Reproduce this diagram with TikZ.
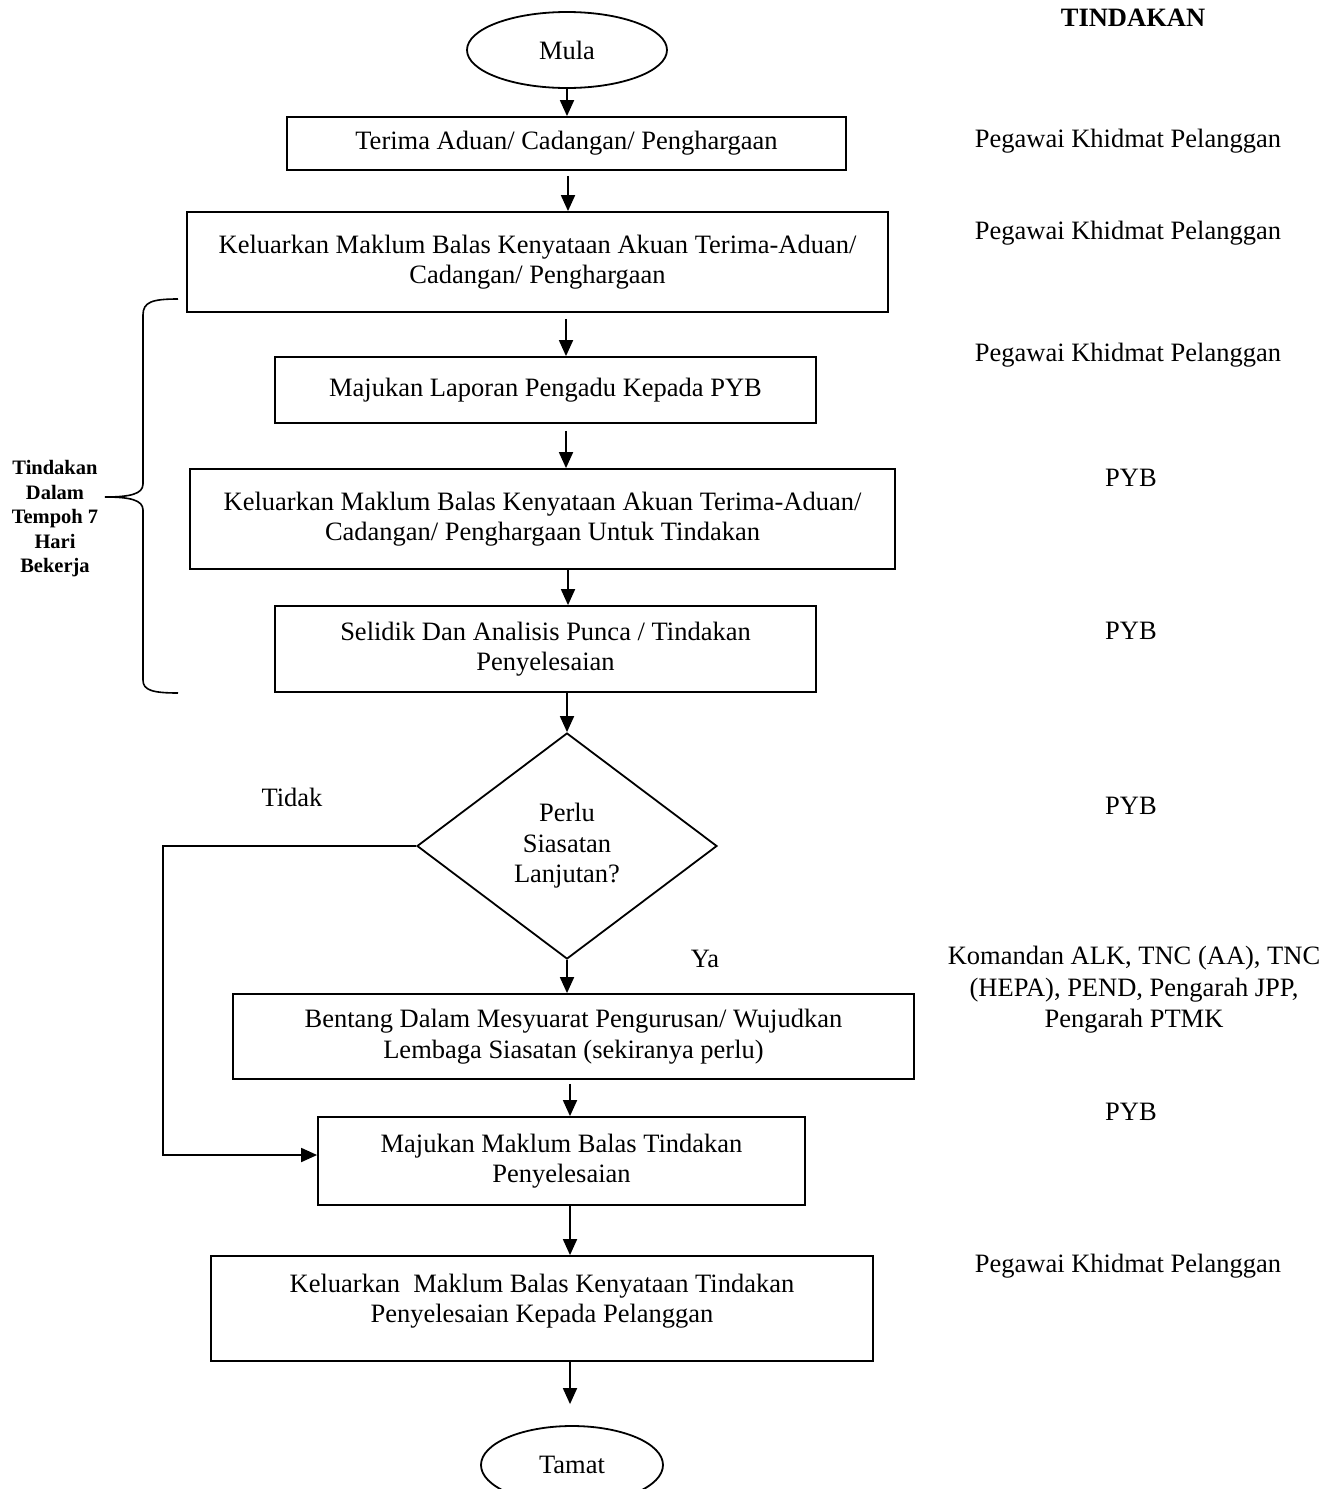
\documentclass[tikz,border=0pt]{standalone}
\usepackage{fontspec}
\setmainfont{Liberation Serif}
\usetikzlibrary{shapes.geometric,arrows.meta,calc}
\newcommand\mainsz{\fontsize{26.5}{30.5}\selectfont}
\newcommand\smallbold{\fontsize{20.5}{24.5}\selectfont\bfseries}
\begin{document}
\begin{tikzpicture}[x=1pt,y=-1pt,font=\mainsz,
  box/.style={draw, line width=1.8pt, rectangle, align=center, inner sep=0pt},
  term/.style={draw, ellipse, line width=1.8pt, inner sep=0pt},
  decide/.style={draw, diamond, line width=1.8pt, align=center, inner sep=0pt},
  arr/.style={line width=1.8pt, -{Triangle[length=16pt,width=14pt]}},
  who/.style={align=center, inner sep=0pt},
  tag/.style={inner sep=0pt}]
\useasboundingbox (0,0) rectangle (1333,1489);

% nodes
\node[term, minimum width=200pt, minimum height=76pt] (mula) at (567,50) {Mula};
\node[box, minimum width=559pt, minimum height=53pt] (b1) at (566.5,143.5) {Terima Aduan/ Cadangan/ Penghargaan};
\node[box, minimum width=701pt, minimum height=100pt] (b2) at (537.5,262) {Keluarkan Maklum Balas Kenyataan Akuan Terima-Aduan/\\Cadangan/ Penghargaan};
\node[box, minimum width=541pt, minimum height=66pt] (b3) at (545.5,390) {Majukan Laporan Pengadu Kepada PYB};
\node[box, minimum width=705pt, minimum height=100pt] (b4) at (542.5,519) {Keluarkan Maklum Balas Kenyataan Akuan Terima-Aduan/\\Cadangan/ Penghargaan Untuk Tindakan};
\node[box, minimum width=541pt, minimum height=86pt] (b5) at (545.5,649) {Selidik Dan Analisis Punca / Tindakan\\Penyelesaian};
\node[decide, minimum width=300pt, minimum height=226pt, aspect=1.33] (dec) at (567,846) {Perlu\\Siasatan\\Lanjutan?};
\node[box, minimum width=681pt, minimum height=85pt] (b6) at (573.5,1036.5) {Bentang Dalam Mesyuarat Pengurusan/ Wujudkan\\Lembaga Siasatan (sekiranya perlu)};
\node[box, minimum width=487pt, minimum height=88pt] (b7) at (561.5,1161) {Majukan Maklum Balas Tindakan\\Penyelesaian};
\node[box, minimum width=662pt, minimum height=105pt] (b8) at (542,1308.5) {Keluarkan~ Maklum Balas Kenyataan Tindakan\\Penyelesaian Kepada Pelanggan\\[-10.5pt]};
\node[term, minimum width=182pt, minimum height=78pt] (tamat) at (572,1465) {Tamat};

% arrows
\coordinate (axis) at (568,0);
\coordinate (loopx) at (163,0);
\draw[arr] (mula.south) -- (mula.south |- b1.north);
\draw[arr] ($(b1.south -| axis)+(0,5)$) -- (b2.north -| axis);
\draw[arr] ($(b2.south -| axis)+(-2,6)$) -- ($(b3.north -| axis)+(-2,0)$);
\draw[arr] ($(b3.south -| axis)+(-2,7)$) -- ($(b4.north -| axis)+(-2,0)$);
\draw[arr] (b4.south -| axis) -- (b5.north -| axis);
\draw[arr] (b5.south -| dec.north) -- (dec.north);
\draw[arr] (dec.south) -- (dec.south |- b6.north);
\draw[arr] ($(b6.south -| axis)+(2,4)$) -- ($(b7.north -| axis)+(2,0)$);
\draw[arr] ($(b7.south -| axis)+(2,0)$) -- ($(b8.north -| axis)+(2,0)$);
\draw[arr] ($(b8.south -| axis)+(2,0)$) -- ($(tamat.north)+(-2,-21)$);
\draw[arr] (dec.west) -- (dec.west -| loopx) |- ($(b7.west)+(0,-6)$);

% branch labels
\node[tag] (tidak) at (292,797) {Tidak};
\node[tag] (ya) at (705,959) {Ya};

% right column
\node[tag, font=\mainsz\bfseries] (hdr) at (1133,18) {TINDAKAN};
\node[who] (r1) at (1128,141) {Pegawai Khidmat Pelanggan};
\node[who] (r2) at (1128,233) {Pegawai Khidmat Pelanggan};
\node[who] (r3) at (1128,355) {Pegawai Khidmat Pelanggan};
\node[who] (r4) at (1131,478) {PYB};
\node[who] (r5) at (1131,631) {PYB};
\node[who] (r6) at (1131,806) {PYB};
\node[who, font=\fontsize{26.5}{31.5}\selectfont] (r7) at (1134,990) {Komandan ALK, TNC (AA), TNC\\(HEPA), PEND, Pengarah JPP,\\Pengarah PTMK};
\node[who] (r8) at (1131,1112) {PYB};
\node[who] (r9) at (1128,1266) {Pegawai Khidmat Pelanggan};

% brace and its label
\draw[line width=1.6pt] (178,299) .. controls (152,299) and (143,302) .. (143,315)
  -- (143,484) .. controls (143,494) and (130,497) .. (105,497)
  .. controls (130,497) and (143,500) .. (143,510)
  -- (143,680) .. controls (143,690) and (152,693) .. (178,693);
\node[who, font=\smallbold] (lbl) at (55,519) {Tindakan\\Dalam\\Tempoh 7\\Hari\\Bekerja};
\end{tikzpicture}
\end{document}
